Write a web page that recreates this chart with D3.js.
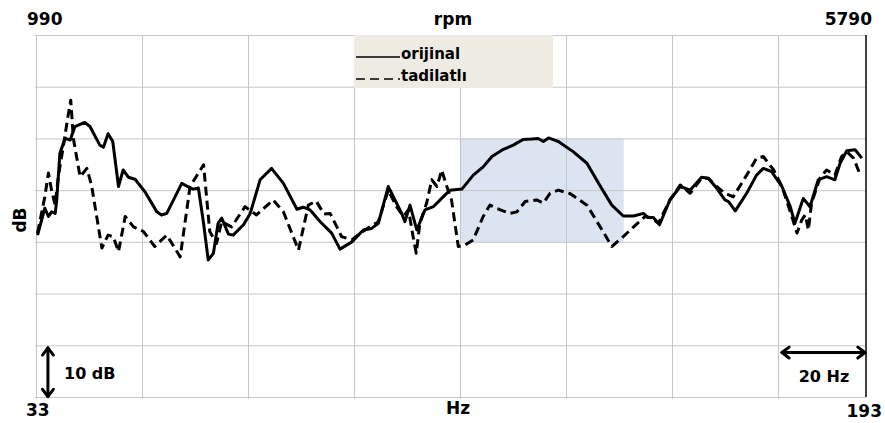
<!DOCTYPE html>
<html>
<head>
<meta charset="utf-8">
<script src="https://cdn.jsdelivr.net/npm/d3@7"></script>
<style>
  body { margin: 0; background: #fff; }
  text { font-family: "DejaVu Sans", sans-serif; font-weight: bold; fill: #000; }
</style>
</head>
<body>
<svg id="chart" width="885" height="423"></svg>
<script>
//////////////////////// data ////////////////////////
// orijinal (solid)
const origHz = [33.3,34.7,35.4,36.0,36.7,37.0,37.6,38.6,39.6,40.5,42.4,43.4,45.3,46.0,46.9,47.8,48.9,49.8,50.8,52.1,
  54.0,56.3,57.2,58.2,59.2,61.1,62.4,63.3,64.3,65.3,66.2,67.2,68.1,68.8,70.1,71.0,73.0,74.3,76.2,78.4,
  80.7,83.3,84.5,85.8,87.8,90.0,91.6,93.9,96.1,97.7,99.0,100.9,102.2,103.5,104.1,105.1,106.4,108.0,109.6,111.2,
  112.8,115.1,117.3,119.2,120.9,123.1,125.0,126.9,128.6,129.8,130.8,131.8,133.7,136.6,139.2,141.7,144.0,146.2,148.2,150.1,
  151.0,152.0,153.2,155.2,157.2,159.1,161.3,162.6,164.2,165.8,166.5,167.8,170.0,171.9,173.2,174.8,176.8,178.4,179.3,180.9,
  182.2,183.8,185.4,187.0,188.0,189.3,190.9,192.2];
const origDb = [31.3,36.5,34.9,35.8,35.5,38.1,47.1,50.0,49.7,52.3,53.1,52.3,48.7,48.3,50.9,49.4,40.7,43.9,42.5,42.1,
  39.7,35.8,35.2,35.5,37.5,41.3,40.6,40.2,40.4,33.6,26.5,27.8,33.6,34.6,31.5,31.3,33.3,35.5,42.0,44.2,
  41.3,36.3,36.7,36.2,33.9,31.7,28.6,30.0,32.3,32.6,33.6,40.7,38.1,35.5,33.9,37.1,32.3,36.2,36.8,38.4,
  40.0,40.2,42.9,44.5,46.5,47.9,48.7,49.8,49.9,50.0,49.4,50.1,49.4,47.4,45.2,40.9,37.1,35.0,35.0,35.5,
  34.7,34.7,33.3,38.1,40.7,40.0,42.5,42.3,40.4,38.1,37.8,36.0,39.4,42.9,44.2,43.6,40.7,36.8,33.6,38.4,
  36.8,42.0,42.6,42.0,45.2,47.6,47.8,46.2];

// tadilatlı (dashed)
const modHz = [33.3,34.7,35.4,36.0,36.7,37.3,38.3,39.2,39.7,40.2,41.5,42.8,43.7,45.7,46.9,47.9,48.9,50.2,51.8,53.7,
  55.9,58.2,60.8,62.7,65.3,66.5,67.8,68.8,70.7,73.3,75.5,78.7,80.7,83.6,85.5,87.0,88.5,89.7,91.0,91.9,
  93.9,96.4,99.0,100.9,102.5,103.8,104.8,105.7,106.3,107.0,108.3,109.3,110.3,111.2,112.0,113.1,114.4,115.7,117.3,119.2,
  120.5,122.5,124.4,125.7,127.3,129.5,130.8,132.1,133.7,136.0,139.2,141.7,144.0,146.2,148.2,150.4,151.7,153.0,155.2,157.2,
  159.1,161.3,162.6,164.2,165.8,167.4,170.0,171.9,173.2,175.2,176.8,178.7,179.7,180.6,181.3,181.9,182.5,184.1,185.4,187.0,
  188.3,189.3,190.6,191.9];
const modDb = [31.7,38.7,43.3,40.0,37.1,42.6,48.7,54.5,57.4,50.0,42.6,44.2,41.0,28.8,31.3,31.0,28.1,34.9,32.9,32.0,
  29.1,31.3,27.1,40.7,44.9,32.0,29.7,33.9,32.9,36.8,35.2,38.1,35.8,28.4,37.1,37.9,35.4,35.5,32.9,31.0,
  30.4,32.3,33.9,40.0,36.8,34.9,36.2,31.0,27.8,33.6,37.5,42.0,40.7,43.9,41.3,38.1,29.1,29.4,30.4,34.9,
  37.1,36.2,35.5,35.8,37.8,38.1,37.5,39.4,40.0,39.3,37.1,33.0,29.1,31.0,32.9,34.9,34.6,33.6,38.1,41.0,
  39.4,42.3,42.3,40.7,39.4,38.7,42.9,46.2,46.5,43.9,40.7,34.9,31.7,34.2,35.2,32.3,37.5,42.3,43.9,42.9,
  46.5,47.4,46.2,42.9];

const gridHz = [33, 53.4, 73.9, 94.3, 114.7, 135.2, 155.6, 176.0];
const gridDb = [0, 10, 20, 30, 40, 50, 60, 70];
const bandHz = [114.7, 146.3];
const bandDb = [30, 50];
const rpmLabels = ["990", "5790"];
const hzLabels = ["33", "193"];
const seriesNames = ["orijinal", "tadilatlı"];

//////////////////////// scales ////////////////////////
const svg = d3.select("#chart");
const x = d3.scaleLinear().domain([33, 193]).range([36, 866]);
const y = d3.scaleLinear().domain([0, 70]).range([397, 35]);

// highlighted band
svg.append("rect")
  .attr("x", x(bandHz[0])).attr("y", y(bandDb[1]))
  .attr("width", x(bandHz[1]) - x(bandHz[0]))
  .attr("height", y(bandDb[0]) - y(bandDb[1]))
  .attr("fill", "#dce4f1");

// grid
svg.append("g").selectAll("line").data(gridDb).enter().append("line")
  .attr("x1", x(33) - 1).attr("x2", x(193))
  .attr("y1", d => y(d) + 0.5).attr("y2", d => y(d) + 0.5)
  .attr("stroke", "#c6c6c6").attr("stroke-width", 1);
svg.append("g").selectAll("line").data(gridHz).enter().append("line")
  .attr("x1", d => Math.round(x(d)) + 0.5).attr("x2", d => Math.round(x(d)) + 0.5)
  .attr("y1", y(70)).attr("y2", y(0) + 2)
  .attr("stroke", "#c6c6c6").attr("stroke-width", 1);
// right border
svg.append("line")
  .attr("x1", x(193)).attr("x2", x(193))
  .attr("y1", y(70)).attr("y2", y(0))
  .attr("stroke", "#000").attr("stroke-width", 1.5);

// legend
const lg = svg.append("g");
lg.append("rect").attr("x", 354).attr("y", 35).attr("width", 199).attr("height", 53).attr("fill", "#eeece2");
lg.append("line").attr("x1", 356).attr("x2", 400).attr("y1", 57).attr("y2", 57)
  .attr("stroke", "#000").attr("stroke-width", 1.6);
lg.append("line").attr("x1", 356).attr("x2", 400).attr("y1", 79).attr("y2", 79)
  .attr("stroke", "#000").attr("stroke-width", 1.6).attr("stroke-dasharray", "9,5");
lg.selectAll("text").data(seriesNames).enter().append("text")
  .attr("x", 401).attr("y", (d, i) => 59 + i * 22)
  .style("font-size", "15px").text(d => d);

// series lines
const line = d3.line().x(d => x(d[0])).y(d => y(d[1]));
svg.append("path").datum(modHz.map((h, i) => [h, modDb[i]]))
  .attr("d", line).attr("fill", "none").attr("stroke", "#000")
  .attr("stroke-width", 3).attr("stroke-dasharray", "9,5").attr("stroke-linejoin", "round");
svg.append("path").datum(origHz.map((h, i) => [h, origDb[i]]))
  .attr("d", line).attr("fill", "none").attr("stroke", "#000")
  .attr("stroke-width", 3).attr("stroke-linejoin", "round");

// axis labels
svg.append("text").attr("x", 27).attr("y", 25).style("font-size", "17px").text(rpmLabels[0]);
svg.append("text").attr("x", 872).attr("y", 25).attr("text-anchor", "end").style("font-size", "17px").text(rpmLabels[1]);
svg.append("text").attr("x", 453).attr("y", 25).attr("text-anchor", "middle").style("font-size", "17px").text("rpm");
svg.append("text").attr("x", 26).attr("y", 416).style("font-size", "17px").text(hzLabels[0]);
svg.append("text").attr("x", 882).attr("y", 417).attr("text-anchor", "end").style("font-size", "17px").text(hzLabels[1]);
svg.append("text").attr("x", 458).attr("y", 414).attr("text-anchor", "middle").style("font-size", "17px").text("Hz");
svg.append("text").attr("transform", "translate(26,220) rotate(-90)").attr("text-anchor", "middle")
  .style("font-size", "17px").text("dB");

// scale arrows
function arrow(x1, y1, x2, y2) {
  const g = svg.append("g").attr("stroke", "#000").attr("stroke-width", 3)
    .attr("fill", "none").attr("stroke-linecap", "round").attr("stroke-linejoin", "round");
  g.append("line").attr("x1", x1).attr("y1", y1).attr("x2", x2).attr("y2", y2);
  const a = Math.atan2(y2 - y1, x2 - x1), s = 9, w = 0.65;
  [[x2, y2, a], [x1, y1, a + Math.PI]].forEach(([px, py, ang]) => {
    g.append("path").attr("d", d3.line()([
      [px - s * Math.cos(ang - w), py - s * Math.sin(ang - w)],
      [px, py],
      [px - s * Math.cos(ang + w), py - s * Math.sin(ang + w)]
    ]));
  });
}
arrow(x(35.3), y(9.5), x(35.3), y(0.1));
svg.append("text").attr("x", 64).attr("y", 379).style("font-size", "16px").text("10 dB");
arrow(x(176.8), y(8.6), x(192.8), y(8.6));
svg.append("text").attr("x", 824).attr("y", 382).attr("text-anchor", "middle").style("font-size", "16px").text("20 Hz");
</script>
</body>
</html>
